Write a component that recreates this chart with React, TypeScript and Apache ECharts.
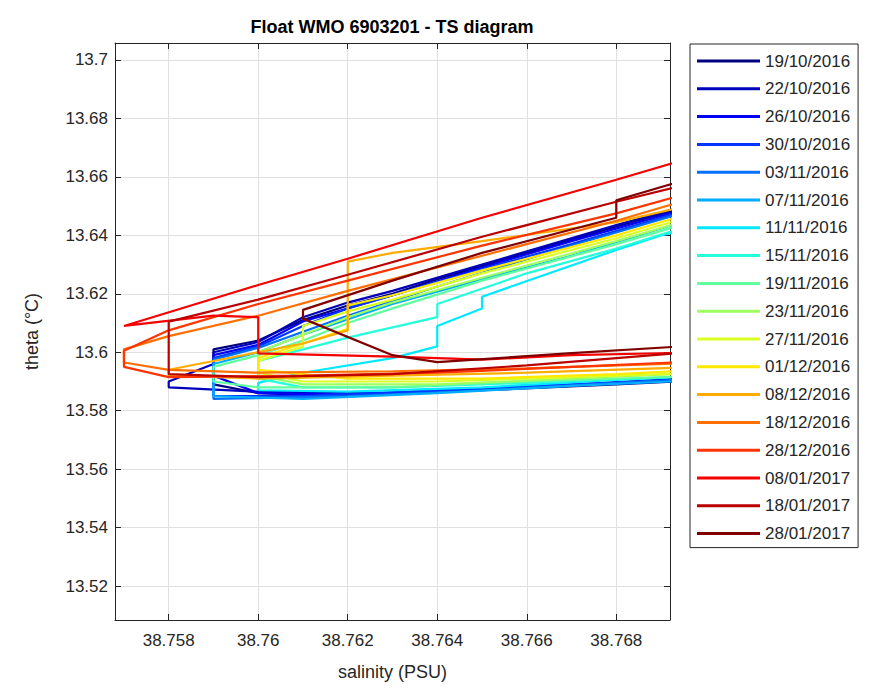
import React, { useEffect, useRef } from "react";
import * as echarts from "echarts";

type Pt = [number, number];

// Legend labels (profile dates)
const dates: string[] = [
  "19/10/2016", "22/10/2016", "26/10/2016", "30/10/2016", "03/11/2016", "07/11/2016",
  "11/11/2016", "15/11/2016", "19/11/2016", "23/11/2016", "27/11/2016", "01/12/2016",
  "08/12/2016", "18/12/2016", "28/12/2016", "08/01/2017", "18/01/2017", "28/01/2017",
];

// jet colormap, 18 entries
const colors: string[] = [
  "#000080", "#0000bb", "#0000f7", "#0035ff", "#0070ff", "#00acff",
  "#00e9ff", "#25ffda", "#61ff9e", "#9eff61", "#daff25", "#ffe900",
  "#ffac00", "#ff7000", "#ff3500", "#f70000", "#bb0000", "#800000",
];

// [salinity, theta] for each profile
const p01: Pt[] = [[38.770,13.6515],[38.768,13.643],[38.766,13.634],[38.764,13.625],[38.763,13.620],[38.762,13.616],[38.761,13.611],[38.760,13.604],[38.759,13.601],[38.759,13.595],[38.759,13.589],[38.760,13.586],[38.762,13.585],[38.765,13.587],[38.768,13.589],[38.770,13.5905]];
const p02: Pt[] = [[38.770,13.652],[38.768,13.6435],[38.765,13.630],[38.763,13.621],[38.762,13.617],[38.761,13.612],[38.760,13.6035],[38.759,13.600],[38.759,13.596],[38.758,13.590],[38.758,13.588],[38.760,13.5865],[38.763,13.586],[38.766,13.588],[38.770,13.5915]];
const p03: Pt[] = [[38.770,13.651],[38.767,13.638],[38.765,13.629],[38.763,13.6195],[38.761,13.6105],[38.760,13.6025],[38.759,13.599],[38.759,13.592],[38.760,13.586],[38.762,13.5855],[38.765,13.5875],[38.768,13.5895],[38.770,13.591]];
const p04: Pt[] = [[38.770,13.6505],[38.767,13.637],[38.764,13.624],[38.762,13.615],[38.761,13.609],[38.760,13.602],[38.759,13.598],[38.759,13.591],[38.759,13.585],[38.761,13.585],[38.764,13.587],[38.767,13.589],[38.770,13.591]];
const p05: Pt[] = [[38.770,13.650],[38.767,13.6365],[38.764,13.6225],[38.762,13.6125],[38.761,13.607],[38.760,13.6015],[38.759,13.5975],[38.759,13.589],[38.759,13.584],[38.762,13.585],[38.765,13.587],[38.768,13.5895],[38.770,13.591]];
const p06: Pt[] = [[38.770,13.647],[38.767,13.633],[38.765,13.625],[38.763,13.6165],[38.761,13.606],[38.760,13.600],[38.759,13.596],[38.759,13.590],[38.759,13.585],[38.761,13.584],[38.764,13.586],[38.767,13.5885],[38.770,13.5905]];
const p07: Pt[] = [[38.770,13.6435],[38.769,13.640],[38.768,13.635],[38.765,13.619],[38.765,13.615],[38.764,13.609],[38.764,13.602],[38.763,13.598],[38.761,13.593],[38.760,13.5895],[38.760,13.587],[38.762,13.5865],[38.765,13.588],[38.768,13.5905],[38.770,13.592]];
const p08: Pt[] = [[38.770,13.645],[38.768,13.6355],[38.766,13.627],[38.764,13.6165],[38.764,13.612],[38.762,13.605],[38.761,13.601],[38.760,13.597],[38.760,13.591],[38.761,13.588],[38.763,13.588],[38.766,13.5895],[38.770,13.592]];
const p09: Pt[] = [[38.770,13.646],[38.768,13.637],[38.765,13.6245],[38.763,13.615],[38.762,13.610],[38.761,13.604],[38.760,13.599],[38.759,13.595],[38.759,13.590],[38.760,13.588],[38.763,13.588],[38.766,13.590],[38.770,13.592]];
const p10: Pt[] = [[38.770,13.647],[38.768,13.638],[38.765,13.6255],[38.763,13.617],[38.762,13.612],[38.761,13.606],[38.760,13.600],[38.760,13.592],[38.761,13.589],[38.764,13.589],[38.767,13.591],[38.770,13.593]];
const p11: Pt[] = [[38.770,13.648],[38.768,13.639],[38.765,13.627],[38.763,13.618],[38.762,13.614],[38.761,13.609],[38.761,13.602],[38.760,13.597],[38.760,13.593],[38.761,13.590],[38.764,13.590],[38.767,13.5915],[38.770,13.593]];
const p12: Pt[] = [[38.770,13.649],[38.768,13.640],[38.765,13.628],[38.763,13.6195],[38.762,13.616],[38.762,13.608],[38.761,13.603],[38.760,13.598],[38.760,13.594],[38.762,13.591],[38.765,13.591],[38.768,13.5925],[38.770,13.594]];
const p13: Pt[] = [[38.770,13.6515],[38.768,13.6445],[38.765,13.638],[38.763,13.634],[38.762,13.631],[38.762,13.6075],[38.761,13.603],[38.759,13.597],[38.758,13.594],[38.758,13.592],[38.760,13.591],[38.763,13.592],[38.766,13.593],[38.770,13.595]];
const p14: Pt[] = [[38.770,13.654],[38.768,13.645],[38.765,13.633],[38.762,13.621],[38.760,13.6125],[38.758,13.6055],[38.757,13.601],[38.757,13.5965],[38.758,13.594],[38.760,13.593],[38.763,13.5935],[38.766,13.5945],[38.770,13.5965]];
const p15: Pt[] = [[38.770,13.656],[38.768,13.6475],[38.765,13.6365],[38.762,13.6245],[38.760,13.6165],[38.758,13.6075],[38.757,13.6005],[38.757,13.595],[38.758,13.5915],[38.761,13.592],[38.764,13.593],[38.767,13.595],[38.770,13.597]];
const p16: Pt[] = [[38.770,13.668],[38.768,13.659],[38.765,13.646],[38.762,13.632],[38.760,13.623],[38.757,13.609],[38.759,13.6125],[38.760,13.612],[38.760,13.5996],[38.763,13.5985],[38.765,13.5975],[38.767,13.599],[38.770,13.600]];
const p17: Pt[] = [[38.770,13.659],[38.768,13.6515],[38.765,13.6395],[38.762,13.6265],[38.760,13.618],[38.758,13.6105],[38.758,13.604],[38.758,13.5975],[38.758,13.5925],[38.760,13.5915],[38.763,13.5925],[38.766,13.5955],[38.770,13.6005]];
const p18: Pt[] = [[38.770,13.661],[38.768,13.652],[38.768,13.646],[38.765,13.634],[38.763,13.6245],[38.761,13.6145],[38.761,13.6115],[38.763,13.599],[38.764,13.5966],[38.767,13.5997],[38.770,13.6025]];

const profiles: Pt[][] = [p01, p02, p03, p04, p05, p06, p07, p08, p09, p10, p11, p12, p13, p14, p15, p16, p17, p18];

const xTicks: number[] = [38.758, 38.76, 38.762, 38.764, 38.766, 38.768];
const yTicks: number[] = [13.52, 13.54, 13.56, 13.58, 13.6, 13.62, 13.64, 13.66, 13.68, 13.7];
const xRange: [number, number] = [38.7568, 38.7692];
const yRange: [number, number] = [13.5084, 13.7058];

const titleText = "Float WMO 6903201 - TS diagram";
const xName = "salinity (PSU)";
const yName = "theta (°C)";

const FONT = "'Liberation Sans', Arial, Helvetica, sans-serif";
const INK = "#262626";

const fmt = (v: number) => String(parseFloat(Number(v).toFixed(4)));

export default function App() {
  const ref = useRef<HTMLDivElement>(null);
  useEffect(() => {
    if (!ref.current) return;
    const chart = echarts.init(ref.current, undefined, { renderer: "svg" });
    const tickStyle = { color: INK, width: 1 };
    chart.setOption({
      animation: false,
      backgroundColor: "#ffffff",
      graphic: [
        {
          type: "text",
          x: 392,
          y: 27,
          style: {
            text: titleText,
            font: `bold 18px ${FONT}`,
            fill: "#000",
            textAlign: "center",
            textVerticalAlign: "middle",
          },
        },
      ],
      grid: { left: 115, top: 43, width: 555, height: 577, containLabel: false },
      xAxis: [
        {
          type: "value",
          position: "bottom",
          min: xRange[0],
          max: xRange[1],
          name: xName,
          nameLocation: "middle",
          nameGap: 43,
          nameTextStyle: { fontSize: 18, color: INK, fontFamily: FONT },
          axisLine: { show: true, onZero: false, lineStyle: tickStyle },
          axisTick: { show: true, inside: true, length: 6, customValues: xTicks, lineStyle: tickStyle },
          axisLabel: { show: true, customValues: xTicks, formatter: fmt, fontSize: 17, color: INK, fontFamily: FONT, margin: 12 },
          splitLine: { show: true, lineStyle: { color: "#e0e0e0", width: 1 } },
        },
        {
          type: "value",
          position: "top",
          min: xRange[0],
          max: xRange[1],
          axisLine: { show: true, onZero: false, lineStyle: tickStyle },
          axisTick: { show: true, inside: true, length: 6, customValues: xTicks, lineStyle: tickStyle },
          axisLabel: { show: false },
          splitLine: { show: false },
        },
      ],
      yAxis: [
        {
          type: "value",
          position: "left",
          min: yRange[0],
          max: yRange[1],
          name: yName,
          nameLocation: "middle",
          nameGap: 74,
          nameTextStyle: { fontSize: 18, color: INK, fontFamily: FONT },
          axisLine: { show: true, onZero: false, lineStyle: tickStyle },
          axisTick: { show: true, inside: true, length: 6, customValues: yTicks, lineStyle: tickStyle },
          axisLabel: { show: true, customValues: yTicks, formatter: fmt, fontSize: 17, color: INK, fontFamily: FONT, margin: 7 },
          splitLine: { show: true, lineStyle: { color: "#e0e0e0", width: 1 } },
        },
        {
          type: "value",
          position: "right",
          min: yRange[0],
          max: yRange[1],
          axisLine: { show: true, onZero: false, lineStyle: tickStyle },
          axisTick: { show: true, inside: true, length: 6, customValues: yTicks, lineStyle: tickStyle },
          axisLabel: { show: false },
          splitLine: { show: false },
        },
      ],
      legend: {
        orient: "vertical",
        left: 690,
        top: 44,
        icon: "rect",
        itemWidth: 63,
        itemHeight: 3,
        itemGap: 7.8,
        padding: [7, 8, 4, 7],
        borderColor: INK,
        borderWidth: 1,
        backgroundColor: "#ffffff",
        selectedMode: false,
        textStyle: { fontSize: 17, color: INK, fontFamily: FONT, lineHeight: 20 },
        data: dates,
      },
      series: profiles.map((pts, i) => ({
        name: dates[i],
        type: "line",
        xAxisIndex: 0,
        yAxisIndex: 0,
        data: pts,
        showSymbol: false,
        symbol: "none",
        clip: true,
        silent: true,
        color: colors[i],
        lineStyle: { color: colors[i], width: 2.2 },
        itemStyle: { color: colors[i] },
        emphasis: { disabled: true },
        z: 2,
      })),
    });
    return () => chart.dispose();
  }, []);
  return (
    <div
      ref={ref}
      style={{ position: "absolute", left: 0, top: 0, width: 872, height: 693, background: "#fff" }}
    />
  );
}
